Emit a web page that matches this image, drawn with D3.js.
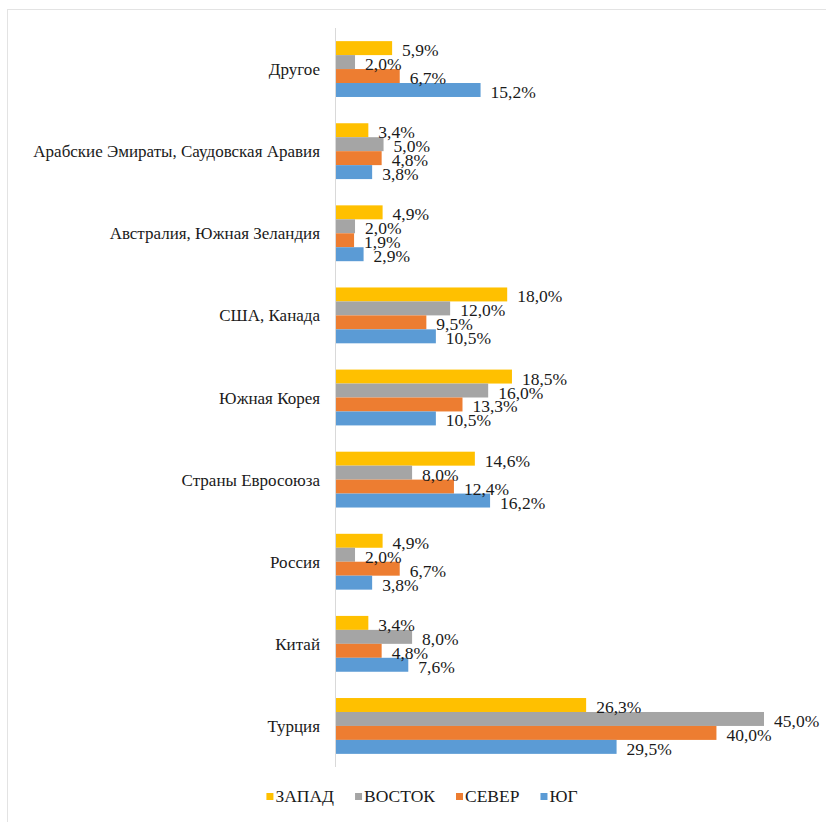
<!DOCTYPE html>
<html><head><meta charset="utf-8">
<script src="https://cdn.jsdelivr.net/npm/d3@7"></script>
<style>body{margin:0;background:#fff}svg{display:block}text{font-family:"Liberation Serif","DejaVu Serif",serif;}</style>
</head><body><svg id="c" width="826" height="822"></svg>
<script>
const categories = ["Другое","Арабские Эмираты, Саудовская Аравия","Австралия, Южная Зеландия","США, Канада","Южная Корея","Страны Евросоюза","Россия","Китай","Турция"];
const seriesNames = ["ЗАПАД","ВОСТОК","СЕВЕР","ЮГ"];
const zapad  = [5.9, 3.4, 4.9, 18.0, 18.5, 14.6, 4.9, 3.4, 26.3];
const vostok = [2.0, 5.0, 2.0, 12.0, 16.0, 8.0, 2.0, 8.0, 45.0];
const sever  = [6.7, 4.8, 1.9, 9.5, 13.3, 12.4, 6.7, 4.8, 40.0];
const yug    = [15.2, 3.8, 2.9, 10.5, 10.5, 16.2, 3.8, 7.6, 29.5];
const colors = ["#FFC000","#A5A5A5","#ED7D31","#5B9BD5"];
const seriesValues = [zapad, vostok, sever, yug];

const svg = d3.select("#c");
svg.append("rect").attr("x",7.5).attr("y",9.5).attr("width",840).attr("height",840)
  .attr("fill","none").attr("stroke","#e3e3e3");

const x = d3.scaleLinear().domain([0,45]).range([336,764]);
const y0 = d3.scaleBand().domain(categories).range([28,767]).paddingInner(0.32).paddingOuter(0.16);
const y1 = d3.scaleBand().domain(seriesNames).range([0,y0.bandwidth()]);

svg.append("line").attr("x1",335.5).attr("x2",335.5).attr("y1",28).attr("y2",767)
  .attr("stroke","#d9d9d9").attr("stroke-width",1);

const g = svg.append("g");
categories.forEach((cat,ci)=>{
  seriesNames.forEach((s,si)=>{
    const v = seriesValues[si][ci];
    const yy = y0(cat)+y1(s);
    g.append("rect").attr("x",x(0)).attr("y",yy).attr("width",x(v)-x(0)).attr("height",y1.bandwidth())
      .attr("fill",colors[si]);
  });
});
categories.forEach((cat,ci)=>{
  seriesNames.forEach((s,si)=>{
    const v = seriesValues[si][ci];
    const yy = y0(cat)+y1(s)+y1.bandwidth()/2;
    g.append("text").attr("x",x(v)+10).attr("y",yy+8)
      .attr("font-size",17.5).attr("fill","#1a1a1a")
      .text(v.toFixed(1).replace(".",",")+"%");
  });
  svg.append("text").attr("x",320).attr("y",y0(cat)+y0.bandwidth()/2+6)
    .attr("text-anchor","end").attr("font-size",17).attr("fill","#1a1a1a")
    .text(cat);
});

// legend
const lg = svg.append("g");
let lx = 0;
seriesNames.forEach((s,i)=>{
  const it = lg.append("g").attr("transform",`translate(${lx},0)`);
  it.append("rect").attr("x",0).attr("y",-9).attr("width",7).attr("height",7).attr("fill",colors[i]);
  const t = it.append("text").attr("x",9).attr("y",0).attr("font-size",17.5).attr("fill","#1a1a1a").text(s);
  const w = t.node().getComputedTextLength();
  lx += 9 + w + 21;
});
const totalW = lx - 21;
lg.attr("transform",`translate(${422 - totalW/2},802)`);
</script></body></html>
